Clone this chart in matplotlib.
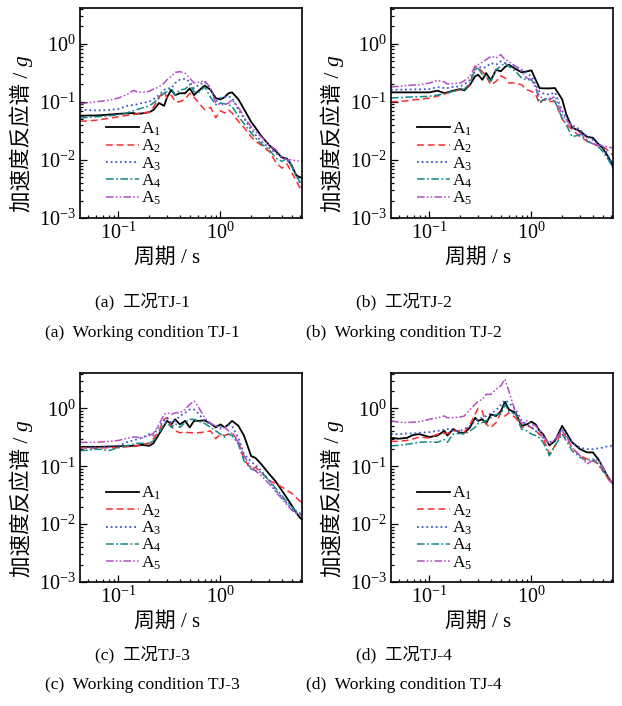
import matplotlib
matplotlib.use('Agg')
import matplotlib.pyplot as plt
from matplotlib.ticker import LogLocator, NullFormatter

plt.rcParams['font.family'] = ['Liberation Serif', 'Noto Sans CJK SC']
plt.rcParams['mathtext.fontset'] = 'custom'
plt.rcParams['mathtext.rm'] = 'Liberation Serif'
plt.rcParams['mathtext.it'] = 'Liberation Serif:italic'
plt.rcParams['mathtext.bf'] = 'Liberation Serif:bold'

# ---------------- data ----------------
period = [0.042, 0.05, 0.06, 0.07, 0.08, 0.1, 0.12, 0.14, 0.15, 0.17, 0.2, 0.22, 0.25, 0.28,
          0.3, 0.33, 0.36, 0.4, 0.45, 0.5, 0.55, 0.6, 0.7, 0.8, 0.9, 1.0, 1.1, 1.2, 1.3, 1.5,
          1.7, 2.0, 2.2, 2.5, 3.0, 3.5, 4.0, 4.5, 5.0, 5.5, 6.0, 6.3]

series_names = ['A1', 'A2', 'A3', 'A4', 'A5']
legend_labels = [r'$\mathrm{A}_{1}$', r'$\mathrm{A}_{2}$', r'$\mathrm{A}_{3}$',
                 r'$\mathrm{A}_{4}$', r'$\mathrm{A}_{5}$']

tj1_A1 = [0.057, 0.058, 0.058, 0.059, 0.060, 0.062, 0.063, 0.064, 0.062, 0.063, 0.066, 0.072, 0.095, 0.085,
          0.12, 0.16, 0.13, 0.14, 0.14, 0.17, 0.13, 0.15, 0.19, 0.16, 0.115, 0.11, 0.12, 0.14, 0.145, 0.11,
          0.075, 0.045, 0.036, 0.026, 0.018, 0.014, 0.011, 0.0105, 0.008, 0.0055, 0.005, 0.005]
tj1_A2 = [0.046, 0.047, 0.048, 0.050, 0.052, 0.055, 0.058, 0.060, 0.062, 0.064, 0.066, 0.080, 0.12, 0.15,
          0.115, 0.13, 0.10, 0.10, 0.11, 0.14, 0.12, 0.10, 0.073, 0.08, 0.053, 0.07, 0.064, 0.073, 0.064, 0.046,
          0.036, 0.025, 0.021, 0.018, 0.014, 0.009, 0.0072, 0.0085, 0.006, 0.0045, 0.0033, 0.0028]
tj1_A3 = [0.073, 0.072, 0.071, 0.071, 0.072, 0.075, 0.085, 0.088, 0.090, 0.095, 0.10, 0.11, 0.13, 0.16,
          0.17, 0.17, 0.21, 0.24, 0.25, 0.22, 0.17, 0.19, 0.22, 0.17, 0.10, 0.116, 0.12, 0.124, 0.116, 0.073,
          0.052, 0.033, 0.027, 0.021, 0.016, 0.013, 0.011, 0.010, 0.0077, 0.0055, 0.004, 0.0034]
tj1_A4 = [0.052, 0.054, 0.055, 0.056, 0.057, 0.060, 0.064, 0.070, 0.073, 0.078, 0.085, 0.095, 0.115, 0.14,
          0.15, 0.17, 0.13, 0.16, 0.165, 0.20, 0.15, 0.14, 0.18, 0.12, 0.089, 0.095, 0.092, 0.089, 0.083, 0.056,
          0.042, 0.029, 0.024, 0.019, 0.015, 0.0107, 0.0094, 0.0107, 0.0077, 0.0055, 0.0042, 0.0038]
tj1_A5 = [0.092, 0.096, 0.10, 0.103, 0.106, 0.116, 0.132, 0.157, 0.15, 0.145, 0.151, 0.165, 0.18, 0.21,
          0.24, 0.273, 0.32, 0.33, 0.31, 0.256, 0.21, 0.216, 0.23, 0.172, 0.095, 0.089, 0.089, 0.095, 0.108, 0.080,
          0.055, 0.037, 0.031, 0.025, 0.018, 0.0149, 0.0114, 0.010, 0.010, 0.0097, 0.0095, 0.0095]

tj2_A1 = [0.145, 0.145, 0.145, 0.145, 0.145, 0.145, 0.155, 0.141, 0.145, 0.155, 0.165, 0.157, 0.196, 0.273,
          0.292, 0.239, 0.312, 0.233, 0.356, 0.333, 0.396, 0.435, 0.366, 0.321, 0.333, 0.347, 0.239, 0.172, 0.17, 0.17,
          0.172, 0.11, 0.06, 0.036, 0.031, 0.025, 0.024, 0.019, 0.0159, 0.0122, 0.0094, 0.0075]
tj2_A2 = [0.10, 0.10, 0.104, 0.108, 0.11, 0.116, 0.125, 0.135, 0.141, 0.15, 0.161, 0.165, 0.20, 0.41,
          0.39, 0.33, 0.273, 0.196, 0.224, 0.281, 0.256, 0.21, 0.21, 0.196, 0.161, 0.151, 0.132, 0.092, 0.108, 0.101,
          0.101, 0.05, 0.042, 0.033, 0.025, 0.021, 0.019, 0.0174, 0.017, 0.015, 0.013, 0.012]
tj2_A3 = [0.161, 0.161, 0.162, 0.163, 0.164, 0.165, 0.179, 0.172, 0.172, 0.18, 0.184, 0.2, 0.239, 0.333,
          0.407, 0.38, 0.396, 0.464, 0.435, 0.496, 0.464, 0.418, 0.407, 0.356, 0.312, 0.273, 0.196, 0.151, 0.14, 0.132,
          0.145, 0.07, 0.05, 0.04, 0.033, 0.025, 0.022, 0.019, 0.017, 0.013, 0.0095, 0.0085]
tj2_A4 = [0.116, 0.118, 0.12, 0.121, 0.122, 0.124, 0.13, 0.138, 0.141, 0.151, 0.161, 0.165, 0.21, 0.356,
          0.38, 0.292, 0.273, 0.224, 0.356, 0.407, 0.464, 0.407, 0.333, 0.256, 0.239, 0.239, 0.184, 0.097, 0.108, 0.116,
          0.101, 0.052, 0.04, 0.025, 0.027, 0.021, 0.019, 0.017, 0.0139, 0.011, 0.0085, 0.0072]
tj2_A5 = [0.18, 0.184, 0.19, 0.194, 0.196, 0.21, 0.233, 0.22, 0.202, 0.205, 0.21, 0.23, 0.273, 0.407,
          0.435, 0.477, 0.53, 0.605, 0.566, 0.646, 0.53, 0.496, 0.407, 0.333, 0.256, 0.239, 0.172, 0.124, 0.115, 0.108,
          0.124, 0.06, 0.048, 0.037, 0.029, 0.022, 0.019, 0.018, 0.0174, 0.0168, 0.0163, 0.016]

tj3_A1 = [0.217, 0.217, 0.217, 0.218, 0.22, 0.222, 0.224, 0.226, 0.226, 0.235, 0.226, 0.25, 0.36, 0.50,
          0.61, 0.53, 0.65, 0.53, 0.61, 0.47, 0.61, 0.61, 0.62, 0.55, 0.47, 0.53, 0.47, 0.53, 0.61, 0.50,
          0.34, 0.15, 0.14, 0.11, 0.074, 0.054, 0.038, 0.028, 0.021, 0.016, 0.013, 0.012]
tj3_A2 = [0.21, 0.207, 0.206, 0.208, 0.21, 0.21, 0.217, 0.224, 0.226, 0.24, 0.25, 0.3, 0.41, 0.65,
          0.69, 0.5, 0.41, 0.38, 0.39, 0.38, 0.38, 0.38, 0.39, 0.41, 0.3, 0.36, 0.34, 0.36, 0.38, 0.27,
          0.134, 0.09, 0.096, 0.079, 0.057, 0.05, 0.044, 0.038, 0.034, 0.029, 0.025, 0.024]
tj3_A3 = [0.21, 0.21, 0.212, 0.215, 0.218, 0.226, 0.26, 0.28, 0.29, 0.31, 0.36, 0.34, 0.5, 0.61,
          0.69, 0.57, 0.61, 0.74, 0.84, 0.96, 0.96, 0.84, 0.61, 0.53, 0.5, 0.47, 0.47, 0.53, 0.5, 0.31,
          0.163, 0.12, 0.105, 0.084, 0.057, 0.038, 0.029, 0.0226, 0.0186, 0.016, 0.0148, 0.0143]
tj3_A4 = [0.186, 0.19, 0.198, 0.195, 0.186, 0.21, 0.226, 0.24, 0.25, 0.25, 0.25, 0.275, 0.38, 0.53,
          0.57, 0.47, 0.55, 0.47, 0.57, 0.65, 0.65, 0.61, 0.55, 0.47, 0.41, 0.36, 0.32, 0.36, 0.34, 0.24,
          0.125, 0.09, 0.084, 0.079, 0.057, 0.041, 0.031, 0.024, 0.0198, 0.017, 0.0155, 0.015]
tj3_A5 = [0.26, 0.26, 0.26, 0.265, 0.27, 0.28, 0.305, 0.32, 0.32, 0.31, 0.34, 0.37, 0.53, 0.79,
          0.84, 0.79, 0.84, 0.84, 0.96, 1.17, 1.34, 1.1, 0.69, 0.55, 0.5, 0.44, 0.47, 0.41, 0.36, 0.26,
          0.152, 0.096, 0.084, 0.069, 0.05, 0.036, 0.0275, 0.0215, 0.0174, 0.0155, 0.0145, 0.0143]

tj4_A1 = [0.31, 0.30, 0.31, 0.35, 0.36, 0.32, 0.34, 0.41, 0.34, 0.44, 0.38, 0.38, 0.47, 0.69,
          0.61, 0.65, 0.55, 0.79, 0.74, 0.89, 1.30, 0.96, 0.84, 0.50, 0.53, 0.59, 0.53, 0.41, 0.36, 0.23,
          0.275, 0.50, 0.38, 0.26, 0.198, 0.174, 0.174, 0.134, 0.096, 0.07, 0.055, 0.05]
tj4_A2 = [0.27, 0.27, 0.28, 0.30, 0.32, 0.31, 0.36, 0.37, 0.37, 0.41, 0.41, 0.39, 0.53, 0.79,
          1.0, 0.89, 0.53, 0.47, 0.57, 0.84, 0.74, 0.84, 0.69, 0.47, 0.50, 0.47, 0.41, 0.36, 0.31, 0.163,
          0.226, 0.41, 0.31, 0.21, 0.152, 0.134, 0.125, 0.11, 0.084, 0.065, 0.052, 0.047]
tj4_A3 = [0.36, 0.36, 0.37, 0.37, 0.38, 0.39, 0.41, 0.43, 0.44, 0.41, 0.41, 0.44, 0.50, 0.61,
          0.65, 0.69, 0.74, 0.82, 0.93, 1.15, 1.39, 1.26, 0.96, 0.61, 0.53, 0.47, 0.41, 0.36, 0.31, 0.26,
          0.29, 0.44, 0.34, 0.26, 0.21, 0.198, 0.198, 0.204, 0.21, 0.22, 0.225, 0.23]
tj4_A4 = [0.226, 0.23, 0.24, 0.25, 0.26, 0.265, 0.26, 0.29, 0.26, 0.36, 0.37, 0.36, 0.41, 0.47,
          0.55, 0.57, 0.62, 0.69, 0.79, 0.80, 1.17, 0.89, 0.79, 0.44, 0.41, 0.36, 0.34, 0.31, 0.26, 0.152,
          0.226, 0.36, 0.275, 0.186, 0.143, 0.125, 0.134, 0.11, 0.084, 0.068, 0.056, 0.05]
tj4_A5 = [0.61, 0.58, 0.57, 0.58, 0.59, 0.65, 0.69, 0.74, 0.69, 0.69, 0.71, 0.74, 0.96, 1.17,
          1.34, 1.43, 1.75, 1.75, 2.15, 2.45, 3.2, 2.0, 0.84, 0.55, 0.61, 0.53, 0.50, 0.41, 0.34, 0.24,
          0.29, 0.41, 0.34, 0.21, 0.152, 0.11, 0.125, 0.13, 0.096, 0.07, 0.055, 0.05]

panel_data = [
    [tj1_A1, tj1_A2, tj1_A3, tj1_A4, tj1_A5],
    [tj2_A1, tj2_A2, tj2_A3, tj2_A4, tj2_A5],
    [tj3_A1, tj3_A2, tj3_A3, tj3_A4, tj3_A5],
    [tj4_A1, tj4_A2, tj4_A3, tj4_A4, tj4_A5],
]
captions_cn = ['(a)  工况TJ-1', '(b)  工况TJ-2', '(c)  工况TJ-3', '(d)  工况TJ-4']
captions_en = ['(a)  Working condition TJ-1', '(b)  Working condition TJ-2',
               '(c)  Working condition TJ-3', '(d)  Working condition TJ-4']
ylabel_text = '加速度反应谱 / '
ylabel_unit = 'g'
xlabel_text = '周期 / s'

# ---------------- styles ----------------
colors = ['#000000', '#ff2b2b', '#3a5bd0', '#13898a', '#b54ec6']
styles = ['-', (0, (4.5, 2.5)), (0, (1.0, 1.6)), (0, (5, 1.6, 1.2, 1.6)),
          (0, (5, 1.4, 1.1, 1.4, 1.1, 1.4))]
widths = [1.3, 1.1, 1.3, 1.1, 1.1]

W, H = 622, 706
fig = plt.figure(figsize=(W / 100, H / 100), dpi=100)

# axes boxes in pixels: left, top, right, bottom
boxes = [(80, 8, 302, 218), (391, 8, 613, 218), (80, 373, 302, 582), (391, 373, 613, 582)]
cap_cols = [142, 404, 142, 404]
cap_rows = [(302, 333), (302, 333), (655, 685), (655, 685)]

fig.canvas.draw()
renderer = fig.canvas.get_renderer()

for k, (l, t, r, b) in enumerate(boxes):
    ax = fig.add_axes([l / W, 1 - b / H, (r - l) / W, (b - t) / H])
    for s in range(5):
        ax.plot(period, panel_data[k][s], color=colors[s], linestyle=styles[s],
                linewidth=widths[s], label=legend_labels[s])
    ax.set_xscale('log')
    ax.set_yscale('log')
    ax.set_xlim(0.042, 6.3)
    ax.set_ylim(1e-3, 4.1)
    ax.xaxis.set_minor_locator(LogLocator(base=10, subs=range(2, 10)))
    ax.yaxis.set_minor_locator(LogLocator(base=10, subs=range(2, 10)))
    ax.xaxis.set_minor_formatter(NullFormatter())
    ax.yaxis.set_minor_formatter(NullFormatter())
    ax.tick_params(which='both', direction='in', top=False, right=False, width=0.9,
                   labelsize=14.5)
    ax.tick_params(which='major', length=5, pad=3)
    ax.tick_params(which='minor', length=2.5)
    for sp in ax.spines.values():
        sp.set_linewidth(1.2)
    ax.legend(loc='upper left', bbox_to_anchor=(0.115, 0.465), frameon=False, fontsize=12.5,
              handlelength=1.9, handletextpad=0.15, labelspacing=0.0, borderpad=0,
              borderaxespad=0)

    # x label
    fig.text((l + 87) / W, 1 - (b + 40) / H, xlabel_text, fontsize=15, ha='center', va='center')

    # y label in two parts (upright Chinese text + italic g)
    bx = l - 52
    by0 = t + 204
    t1 = fig.text(bx / W, 1 - by0 / H, ylabel_text, fontsize=15.5, rotation=90,
                  rotation_mode='anchor', ha='left', va='baseline')
    ext = t1.get_window_extent(renderer=renderer)
    fig.text(bx / W, 1 - by0 / H + ext.height / (H), ylabel_unit, fontsize=15.5, rotation=90,
             rotation_mode='anchor', ha='left', va='baseline', style='italic')

    # captions
    fig.text(cap_cols[k] / W, 1 - cap_rows[k][0] / H, captions_cn[k], fontsize=12.6,
             ha='center', va='center')
    fig.text(cap_cols[k] / W, 1 - cap_rows[k][1] / H, captions_en[k], fontsize=12.6,
             ha='center', va='center')

fig.savefig('out.png', dpi=100)
